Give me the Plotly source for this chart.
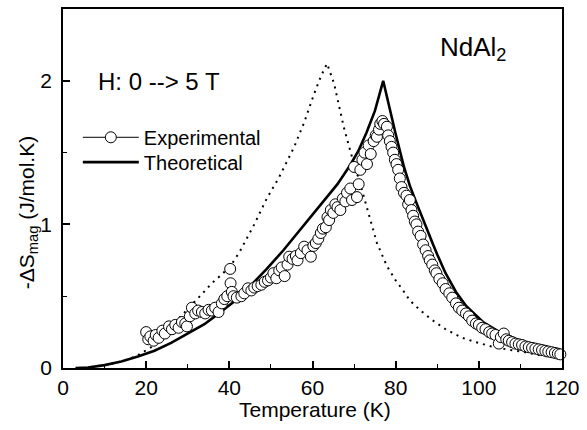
import plotly.graph_objects as go

# Experimental data (T in K, -dS in J/mol.K)
exp_T = [20.0, 20.5, 21.0, 21.8, 22.3, 23.0, 23.9, 24.5, 25.5, 26.2, 27.0, 27.8, 28.6, 29.4, 29.8,
         30.5, 31.0, 31.8, 32.5, 33.4, 34.2, 35.0, 35.8, 36.6, 37.4, 38.2, 38.8, 39.5, 40.2, 40.3,
         40.6, 41.0, 41.8, 42.9, 43.6, 44.5, 45.3, 46.0, 46.8, 47.7, 48.5, 49.3, 50.0, 50.6, 51.3,
         52.0, 52.6, 53.3, 54.0, 54.4, 55.2, 56.0, 56.4, 57.2, 58.0, 58.8, 59.6, 60.2, 60.8, 61.4,
         62.0, 62.5, 63.2, 63.6, 64.0, 64.4, 65.0, 65.5, 66.0, 66.7, 67.3, 67.9, 68.3, 69.1, 69.5,
         70.0, 70.7, 71.1, 71.5, 72.0, 72.5, 73.1, 73.5, 74.0, 74.7, 75.2, 75.5, 76.0, 76.3, 76.8,
         77.2, 77.9, 78.2, 78.6, 79.0, 79.4, 79.8, 80.2, 80.6, 81.0, 81.4, 82.0, 82.6, 83.0, 83.4,
         83.8, 84.2, 84.6, 85.0, 85.4, 86.0, 86.6, 87.2, 87.8, 88.2, 88.8, 89.4, 89.8, 90.5, 91.3,
         92.0, 92.9, 93.6, 94.5, 95.2, 96.0, 96.9, 97.6, 98.4, 99.3, 100.0, 100.8, 101.6, 102.5, 103.2,
         104.0, 104.8, 105.3, 106.0, 106.6, 107.2, 108.0, 108.8, 109.6, 110.4, 111.2, 112.0, 112.8, 113.6, 114.4,
         115.2, 116.0, 116.7, 117.5, 118.3, 119.0, 119.6, 120.3]
exp_S = [0.25, 0.20, 0.22, 0.19, 0.23, 0.21, 0.26, 0.24, 0.29, 0.27, 0.30, 0.28, 0.32, 0.31, 0.29,
         0.36, 0.42, 0.38, 0.40, 0.39, 0.38, 0.405, 0.40, 0.42, 0.39, 0.45, 0.48, 0.50, 0.69, 0.59,
         0.53, 0.50, 0.49, 0.50, 0.52, 0.555, 0.54, 0.56, 0.57, 0.58, 0.60, 0.61, 0.63, 0.66, 0.625,
         0.68, 0.70, 0.64, 0.72, 0.775, 0.76, 0.78, 0.75, 0.80, 0.845, 0.82, 0.775, 0.85, 0.87, 0.90,
         0.94, 0.97, 0.98, 1.05, 1.03, 1.10, 1.08, 1.14, 1.12, 1.10, 1.18, 1.16, 1.22, 1.25, 1.17,
         1.40, 1.19, 1.28, 1.38, 1.45, 1.50, 1.42, 1.55, 1.49, 1.58, 1.62, 1.61, 1.66, 1.70, 1.72,
         1.70, 1.68, 1.62, 1.58, 1.54, 1.50, 1.45, 1.42, 1.38, 1.32, 1.26, 1.22, 1.20, 1.14, 1.17,
         1.10, 1.06, 1.02, 1.00, 0.95, 0.92, 0.86, 0.82, 0.78, 0.75, 0.72, 0.68, 0.66, 0.62, 0.59,
         0.55, 0.52, 0.49, 0.45, 0.42, 0.40, 0.38, 0.36, 0.33, 0.31, 0.30, 0.28, 0.27, 0.25, 0.24,
         0.23, 0.17, 0.215, 0.24, 0.20, 0.19, 0.18, 0.17, 0.165, 0.16, 0.15, 0.145, 0.14, 0.135, 0.13,
         0.125, 0.12, 0.115, 0.11, 0.105, 0.10, 0.095, 0.09]

# Theoretical curve
th_T = [3, 6, 10, 14, 18, 22, 26, 30, 34, 37, 41, 45, 49, 53, 57, 60, 63, 66, 69, 71, 73, 75, 77,
        78.6, 80, 82, 83.4, 85, 87, 89, 90, 92, 94.5, 97, 101, 105, 109, 113, 117, 120]
th_S = [0.0, 0.003, 0.02, 0.045, 0.08, 0.12, 0.175, 0.24, 0.305, 0.37, 0.46, 0.57, 0.69, 0.82, 0.96,
        1.07, 1.17, 1.28, 1.41, 1.51, 1.64, 1.79, 2.00,
        1.80, 1.63, 1.40, 1.27, 1.15, 1.00, 0.86, 0.79, 0.66, 0.53, 0.43, 0.32, 0.25, 0.20, 0.16, 0.13, 0.11]

# Dotted curve
dot_T = [5, 10, 14, 17.5, 21.5, 25, 29, 32.6, 35.8, 38.5, 40.5, 42.5, 46, 49, 52, 55.6, 58, 60.4, 62,
         63.5, 65.2, 67.5, 69.5, 71.5, 73.9, 75.5, 77.9, 80, 81.8, 83.4, 86, 88.5, 92, 96, 99.3, 103,
         107.2, 111.2, 115.2, 118.5]
dot_S = [0.0, 0.02, 0.045, 0.08, 0.15, 0.26, 0.38, 0.49, 0.59, 0.66, 0.72, 0.81, 1.00, 1.18, 1.33,
         1.54, 1.71, 1.91, 2.03, 2.12, 1.98, 1.68, 1.47, 1.28, 1.03, 0.87, 0.71, 0.61, 0.54, 0.47, 0.40,
         0.34, 0.27, 0.21, 0.18, 0.15, 0.127, 0.11, 0.085, 0.075]

FONT = "Liberation Sans, Arial, sans-serif"

fig = go.Figure()
fig.add_trace(go.Scatter(x=dot_T, y=dot_S, mode="lines", showlegend=False,
                         line=dict(color="black", width=2, dash="2px,5px")))
fig.add_trace(go.Scatter(x=th_T, y=th_S, mode="lines", showlegend=False,
                         line=dict(color="black", width=2.6)))
fig.add_trace(go.Scatter(x=exp_T, y=exp_S, mode="markers", showlegend=False, cliponaxis=False,
                         marker=dict(symbol="circle", size=11, color="white",
                                     line=dict(color="black", width=1))))
# legend entries
fig.add_trace(go.Scatter(x=[None], y=[None], mode="lines+markers", name="Experimental",
                         legend="legend",
                         marker=dict(symbol="circle", size=11, color="white",
                                     line=dict(color="black", width=1)),
                         line=dict(color="black", width=1)))
fig.add_trace(go.Scatter(x=[None], y=[None], mode="lines", name="Theoretical",
                         legend="legend2",
                         line=dict(color="black", width=2.6)))

L, R, T, B = 63, 19, 7, 62
PW, PH = 587 - L - R, 430 - T - B

def px(xp):
    return (xp - L) / PW

def py(yp):
    return (430 - B - yp) / PH

leg_common = dict(bgcolor="rgba(0,0,0,0)", borderwidth=0, font=dict(family=FONT, size=20, color="black"),
                  xanchor="left", yanchor="middle", itemwidth=56)

fig.update_layout(
    width=587, height=430,
    margin=dict(l=L, r=R, t=T, b=B),
    paper_bgcolor="white", plot_bgcolor="white",
    font=dict(family=FONT, size=20, color="black"),
    legend=dict(x=px(78), y=py(136), **leg_common),
    legend2=dict(x=px(78), y=py(161), **leg_common),
    xaxis=dict(range=[0, 120], tickvals=[0, 20, 40, 60, 80, 100, 120],
               ticks="inside", ticklen=7, tickwidth=1.5, tickcolor="black",
               minor=dict(tickvals=[10, 30, 50, 70, 90, 110], ticks="inside", ticklen=4, tickwidth=1.2, tickcolor="black"),
               showline=True, linecolor="black", linewidth=1.5, mirror=True,
               showgrid=False, zeroline=False, tickfont=dict(size=21), ticklabelstandoff=0),
    yaxis=dict(range=[0, 2.5], tickvals=[0, 1, 2],
               ticks="inside", ticklen=7, tickwidth=1.5, tickcolor="black",
               minor=dict(tickvals=[0.5, 1.5], ticks="inside", ticklen=4, tickwidth=1.2, tickcolor="black"),
               showline=True, linecolor="black", linewidth=1.5, mirror=True,
               showgrid=False, zeroline=False, tickfont=dict(size=21), ticklabelstandoff=5),
    annotations=[
        dict(text="Temperature (K)", x=px(318), y=py(410), xref="paper", yref="paper",
             showarrow=False, font=dict(size=21), xanchor="center", yanchor="middle"),
        dict(text="-ΔS<sub>mag</sub> (J/mol.K)", x=px(27), y=py(212), xref="paper", yref="paper",
             showarrow=False, font=dict(size=21), textangle=-90, xanchor="center", yanchor="middle"),
        dict(text="H: 0 --> 5 T", x=px(96), y=py(80), xref="paper", yref="paper",
             showarrow=False, font=dict(size=24), xanchor="left", yanchor="middle"),
        dict(text="NdAl<sub>2</sub>", x=px(443), y=py(47), xref="paper", yref="paper",
             showarrow=False, font=dict(size=26), xanchor="left", yanchor="middle"),
    ],
)

fig.write_html("out.html")
